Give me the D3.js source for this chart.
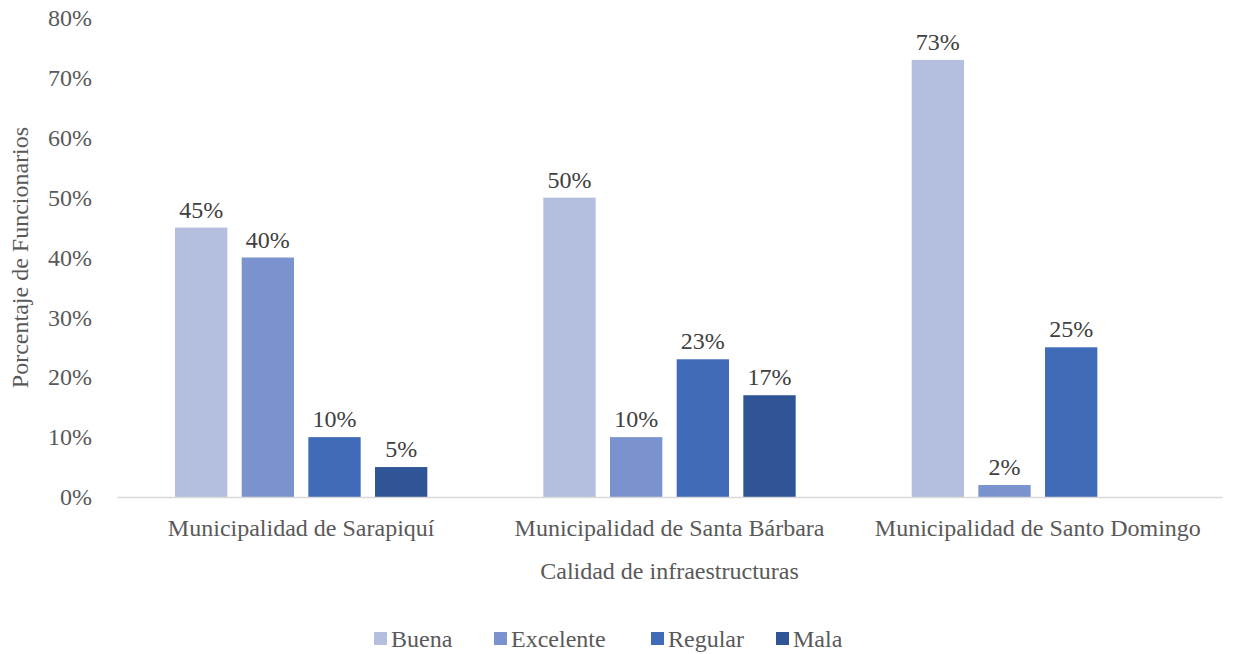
<!DOCTYPE html>
<html>
<head>
<meta charset="utf-8">
<script src="https://cdn.jsdelivr.net/npm/d3@7"></script>
<style>
    body { margin: 0; background: #fff; }
    svg text { font-family: "Liberation Serif", "Tinos", "DejaVu Serif", "Noto Serif", "Times New Roman", Times, serif !important; }
</style>
</head>
<body>
<svg width="1234" height="654"></svg>
<script>
// data
var municipios = ["Municipalidad de Sarapiquí", "Municipalidad de Santa Bárbara", "Municipalidad de Santo Domingo"];
var series = ["Buena", "Excelente", "Regular", "Mala"];
var buena = [45, 50, 73];
var excelente = [40, 10, 2];
var regular = [10, 23, 25];
var mala = [5, 17, null];
var yTicks = [0, 10, 20, 30, 40, 50, 60, 70, 80];
var colores = ["#b4bfdf", "#7a93cf", "#3f6bb8", "#2f5597"];

var valores = { "Buena": buena, "Excelente": excelente, "Regular": regular, "Mala": mala };
var fs = 24;

var svg = d3.select("svg"),
    margin = { top: 18, right: 12, bottom: 157, left: 117 },
    width = +svg.attr("width") - margin.left - margin.right,
    height = +svg.attr("height") - margin.top - margin.bottom,
    g = svg.append("g").attr("transform", "translate(" + margin.left + "," + margin.top + ")");

// scales
var x0 = d3.scaleBand().domain(municipios).range([0, width]).paddingInner(0).paddingOuter(0);
var x1 = d3.scaleBand().domain(series).range([58, x0.bandwidth() - 58]).paddingInner(0.215).paddingOuter(0);
var y = d3.scaleLinear().domain([0, 80]).range([height, 0]);
var z = d3.scaleOrdinal().domain(series).range(colores);

// y axis (labels only)
var yAxis = g.append("g")
    .call(d3.axisLeft(y).tickValues(yTicks).tickFormat(function (d) { return d + "%"; }).tickSize(0).tickPadding(25));
yAxis.select(".domain").remove();
yAxis.selectAll("text")
    .attr("font-size", fs)
    .attr("fill", "#595959");

// bars
var data = municipios.map(function (m, i) {
    return { municipio: m, values: series.map(function (s) { return { key: s, value: valores[s][i] }; }) };
});

var grupos = g.append("g")
    .selectAll("g")
    .data(data)
    .enter().append("g")
    .attr("transform", function (d) { return "translate(" + x0(d.municipio) + ",0)"; });

grupos.selectAll("rect")
    .data(function (d) { return d.values.filter(function (v) { return v.value != null; }); })
    .enter().append("rect")
    .attr("x", function (d) { return x1(d.key); })
    .attr("y", function (d) { return y(d.value); })
    .attr("width", x1.bandwidth())
    .attr("height", function (d) { return height - y(d.value); })
    .attr("fill", function (d) { return z(d.key); });

// value labels
grupos.selectAll("text")
    .data(function (d) { return d.values.filter(function (v) { return v.value != null; }); })
    .enter().append("text")
    .attr("x", function (d) { return x1(d.key) + x1.bandwidth() / 2; })
    .attr("y", function (d) { return y(d.value) - 10; })
    .attr("text-anchor", "middle")
    .attr("font-size", fs)
    .attr("fill", "#404040")
    .text(function (d) { return d.value + "%"; });

// x axis
var xAxis = g.append("g")
    .attr("transform", "translate(0," + height + ")")
    .call(d3.axisBottom(x0).tickSize(0).tickPadding(22));
xAxis.select(".domain").attr("stroke", "#d9d9d9").attr("stroke-width", 1.5);
xAxis.selectAll("text")
    .attr("font-size", fs)
    .attr("fill", "#595959");

// axis titles
svg.append("text")
    .attr("x", margin.left + width / 2)
    .attr("y", 579)
    .attr("text-anchor", "middle")
    .attr("font-size", fs)
    .attr("fill", "#595959")
    .text("Calidad de infraestructuras");

svg.append("text")
    .attr("transform", "translate(28," + (margin.top + height / 2) + ") rotate(-90)")
    .attr("text-anchor", "middle")
    .attr("font-size", fs)
    .attr("fill", "#595959")
    .text("Porcentaje de Funcionarios");

// legend
var legendX = [374, 494, 651, 776];
var legend = svg.append("g")
    .selectAll("g")
    .data(series)
    .enter().append("g")
    .attr("transform", function (d, i) { return "translate(" + legendX[i] + ",632)"; });

legend.append("rect")
    .attr("width", 13)
    .attr("height", 13)
    .attr("fill", z);

legend.append("text")
    .attr("x", 17)
    .attr("y", 15)
    .attr("font-size", fs)
    .attr("fill", "#595959")
    .text(function (d) { return d; });
</script>
</body>
</html>
